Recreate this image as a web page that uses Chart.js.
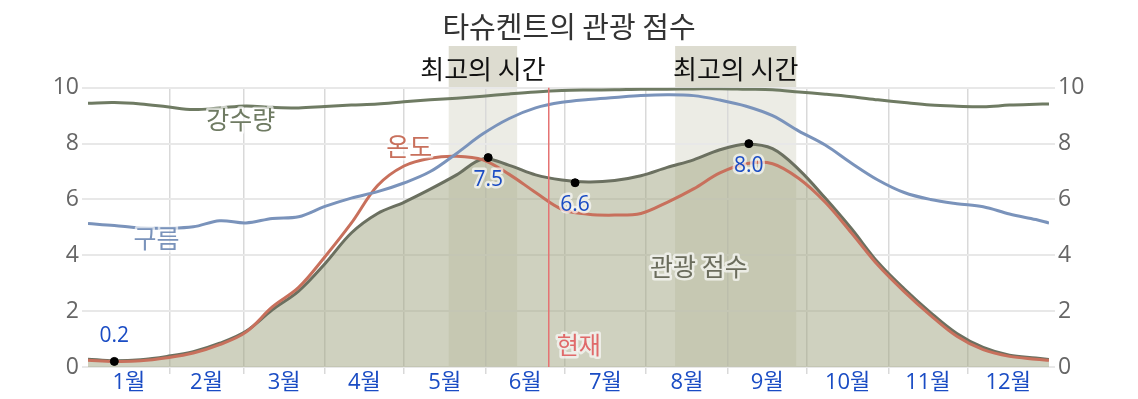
<!DOCTYPE html>
<html>
<head>
<meta charset="utf-8">
<script src="https://cdn.jsdelivr.net/npm/chart.js@4.4.1/dist/chart.umd.min.js"></script>
<style>
html, body { margin: 0; padding: 0; background: #fff; }
#wrap { width: 1138px; height: 399px; }
</style>
</head>
<body>
<div id="wrap"><canvas id="myChart"></canvas></div>
<script>
// day of year for each sample
var days = [0, 10, 20, 30, 40, 50, 60, 70, 80, 90, 100, 110, 120, 130, 140, 150, 160, 170, 180,
    190, 200, 210, 220, 230, 240, 250, 260, 270, 280, 290, 300, 310, 320, 330, 340, 350, 360, 365];
var precipValues = [9.45, 9.47, 9.42, 9.32, 9.22, 9.28, 9.35, 9.30, 9.28, 9.33, 9.38, 9.42, 9.50, 9.57, 9.63, 9.70, 9.78, 9.85, 9.90,
    9.92, 9.93, 9.95, 9.95, 9.96, 9.97, 9.95, 9.93, 9.85, 9.77, 9.68, 9.57, 9.47, 9.38, 9.34, 9.32, 9.38, 9.41, 9.42];
var cloudValues = [5.14, 5.07, 4.98, 4.97, 5.02, 5.24, 5.16, 5.32, 5.38, 5.75, 6.05, 6.28, 6.59, 7.00, 7.65, 8.35, 8.90, 9.28, 9.48,
    9.58, 9.65, 9.72, 9.75, 9.72, 9.56, 9.34, 9.00, 8.45, 7.95, 7.30, 6.70, 6.25, 6.00, 5.85, 5.74, 5.48, 5.28, 5.16];
var tempValues = [0.24, 0.20, 0.22, 0.33, 0.50, 0.80, 1.25, 2.15, 2.85, 3.95, 5.15, 6.50, 7.20, 7.48, 7.55, 7.42, 6.90, 6.25, 5.65,
    5.47, 5.44, 5.50, 5.90, 6.38, 6.95, 7.28, 7.28, 6.75, 5.90, 4.80, 3.65, 2.70, 1.85, 1.10, 0.62, 0.38, 0.28, 0.24];
var scoreValues = [0.28, 0.22, 0.26, 0.38, 0.55, 0.85, 1.28, 2.05, 2.72, 3.70, 4.80, 5.50, 5.90, 6.37, 6.88, 7.45, 7.22, 6.88, 6.70,
    6.63, 6.68, 6.85, 7.15, 7.42, 7.78, 7.98, 7.82, 7.07, 6.05, 4.95, 3.75, 2.80, 1.95, 1.20, 0.70, 0.42, 0.32, 0.27];

var markerDays = [10, 152, 185, 251];
var markerValues = [0.2, 7.5, 6.6, 8.0];

var monthStarts = [0, 31, 59, 90, 120, 151, 181, 212, 243, 273, 304, 334, 365];
var monthLabels = ["1월", "2월", "3월", "4월", "5월", "6월", "7월", "8월", "9월", "10월", "11월", "12월"];
var yTicks = [0, 2, 4, 6, 8, 10];

var bestPeriods = [[137, 163], [223, 269]];
var bestLabel = "최고의 시간";
var nowDay = 175;
var nowLabel = "현재";

var seriesNames = ["강수량", "구름", "온도", "관광 점수"];
var seriesLabelAt = [[58, 8.85], [26, 4.6], [122, 7.9], [232, 3.6]];

var FONT = "'Noto Sans CJK KR', 'Noto Sans', sans-serif";
var NUMFONT = "'Open Sans', 'Noto Sans CJK KR', sans-serif";
var BLUE = "#1a4cc4";

var monthMids = monthLabels.map(function (m, i) { return (monthStarts[i] + monthStarts[i + 1]) / 2; });
function isInnerStart(v) {
    var i = monthStarts.indexOf(v);
    return i > 0 && i < 12;
}
function pts(vals) {
    return vals.map(function (v, i) { return { x: days[i], y: v }; });
}

function haloText(ctx, text, x, y, color, font, align) {
    ctx.save();
    ctx.font = font;
    ctx.textAlign = align || "center";
    ctx.textBaseline = "middle";
    ctx.lineJoin = "round";
    ctx.lineWidth = 5;
    ctx.strokeStyle = "rgba(255,255,255,0.65)";
    ctx.strokeText(text, x, y);
    ctx.fillStyle = color;
    ctx.fillText(text, x, y);
    ctx.restore();
}

var decor = {
    id: "decor",
    beforeDraw: function (chart) {
        var ctx = chart.ctx, a = chart.chartArea, xs = chart.scales.x;
        ctx.save();
        bestPeriods.forEach(function (p) {
            var x1 = xs.getPixelForValue(p[0]), x2 = xs.getPixelForValue(p[1]);
            ctx.fillStyle = "#dddcd0";
            ctx.fillRect(x1, 46, x2 - x1, a.top - 46);
            ctx.fillStyle = "#ecece5";
            ctx.fillRect(x1, a.top, x2 - x1, a.bottom - a.top);
        });
        ctx.restore();
    },
    afterDatasetsDraw: function (chart) {
        var ctx = chart.ctx, a = chart.chartArea, xs = chart.scales.x, ys = chart.scales.y;
        // now line
        var nx = xs.getPixelForValue(nowDay);
        ctx.save();
        ctx.strokeStyle = "#e57373";
        ctx.lineWidth = 1.5;
        ctx.beginPath();
        ctx.moveTo(nx, a.top);
        ctx.lineTo(nx, a.bottom);
        ctx.stroke();
        ctx.restore();
        haloText(ctx, nowLabel, nx + 8, ys.getPixelForValue(0.78), "#e06a6a", "24px " + FONT, "left");

        bestPeriods.forEach(function (p) {
            var cx = (xs.getPixelForValue(p[0]) + xs.getPixelForValue(p[1])) / 2;
            ctx.save();
            ctx.font = "26px " + FONT;
            ctx.textAlign = "center";
            ctx.textBaseline = "middle";
            ctx.fillStyle = "#111";
            ctx.fillText(bestLabel, cx, a.top - 19);
            ctx.restore();
        });

        var colors = ["#6f7b63", "#7a93bb", "#c8705c", "#6b6d5d"];
        seriesNames.forEach(function (n, i) {
            haloText(ctx, n, xs.getPixelForValue(seriesLabelAt[i][0]), ys.getPixelForValue(seriesLabelAt[i][1]), colors[i], "25px " + FONT);
        });

        var meta = chart.getDatasetMeta(4);
        meta.data.forEach(function (el, i) {
            var dy = i === 0 ? -25 : 22;
            haloText(ctx, markerValues[i].toFixed(1), el.x, el.y + dy, BLUE, "21px " + NUMFONT);
        });
    }
};

function lineSet(label, vals, color, order) {
    return {
        label: label,
        data: pts(vals),
        borderColor: color,
        borderWidth: 3,
        pointRadius: 0,
        tension: 0.35,
        fill: false,
        order: order
    };
}

var score = lineSet("관광 점수", scoreValues, "#6b7060", 5);
score.fill = "origin";
score.backgroundColor = "rgba(160,163,128,0.5)";

new Chart("myChart", {
    type: "line",
    data: {
        datasets: [
            lineSet("강수량", precipValues, "#6f7b63", 2),
            lineSet("구름", cloudValues, "#7a93bb", 3),
            lineSet("온도", tempValues, "#c8705c", 4),
            score,
            {
                type: "scatter",
                label: "markers",
                data: markerDays.map(function (d, i) { return { x: d, y: markerValues[i] }; }),
                backgroundColor: "#000",
                borderColor: "#000",
                pointRadius: 4,
                order: 0
            }
        ]
    },
    options: {
        responsive: true,
        maintainAspectRatio: false,
        animation: false,
        layout: { padding: 0 },
        plugins: {
            legend: { display: false },
            tooltip: { enabled: false },
            title: {
                display: true,
                text: "타슈켄트의 관광 점수",
                color: "#333",
                font: { family: FONT, size: 29, weight: "normal" },
                padding: { top: 10, bottom: 43 }
            }
        },
        scales: {
            x: {
                type: "linear",
                min: 0,
                max: 365,
                afterBuildTicks: function (s) {
                    s.ticks = monthStarts.concat(monthMids).sort(function (a, b) { return a - b; })
                        .map(function (v) { return { value: v }; });
                },
                afterFit: function (s) { s.height = 32; },
                border: { display: false },
                grid: {
                    color: function (c) { return c.tick && isInnerStart(c.tick.value) ? "#d9d9d9" : "rgba(0,0,0,0)"; },
                    tickColor: function (c) { return c.tick && isInnerStart(c.tick.value) ? "#d9d9d9" : "rgba(0,0,0,0)"; },
                    lineWidth: 1.5,
                    tickLength: 7
                },
                ticks: {
                    autoSkip: false,
                    maxRotation: 0,
                    padding: -4,
                    color: BLUE,
                    font: { family: NUMFONT, size: 22 },
                    callback: function (v) {
                        var i = monthMids.indexOf(v);
                        return i >= 0 ? monthLabels[i] : "";
                    }
                }
            },
            y: {
                position: "left",
                min: 0,
                max: 10,
                afterBuildTicks: function (s) { s.ticks = yTicks.map(function (v) { return { value: v }; }); },
                afterFit: function (s) { s.width = 88; },
                border: { display: false },
                grid: { color: "#e8e8e8", tickColor: "#e8e8e8", lineWidth: 2, tickLength: 6 },
                ticks: { padding: 3, color: "#666", font: { family: NUMFONT, size: 23 } }
            },
            y2: {
                position: "right",
                min: 0,
                max: 10,
                afterBuildTicks: function (s) { s.ticks = yTicks.map(function (v) { return { value: v }; }); },
                afterFit: function (s) { s.width = 89; },
                border: { display: false },
                grid: { drawOnChartArea: false, tickColor: "#e8e8e8", lineWidth: 2, tickLength: 6 },
                ticks: { padding: 3, color: "#666", font: { family: NUMFONT, size: 23 } }
            }
        }
    },
    plugins: [decor]
});
</script>
</body>
</html>
